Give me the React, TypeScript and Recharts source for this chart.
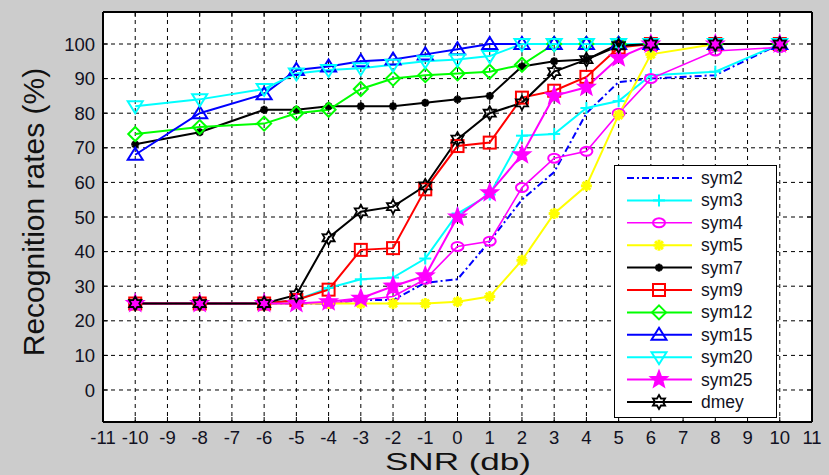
import React from 'react';
import { LineChart, Line, XAxis, YAxis, CartesianGrid, ReferenceLine } from 'recharts';

const snr = [-10, -8, -6, -5, -4, -3, -2, -1, 0, 1, 2, 3, 4, 5, 6, 8, 10];
const sym2 = [25, 25, 25, 25, 25, 26, 26, 31, 32, 43, 55, 63, 80, 89, 90, 91, 100];
const sym3 = [25, 25, 25, 26, 29.5, 32, 32.5, 38, 51, 56.5, 73.5, 74, 81.5, 83.5, 91, 92, 100];
const sym4 = [25, 25, 25, 25, 25, 26, 27, 32, 41.5, 43, 58.5, 67, 69, 80, 90, 98, 99];
const sym5 = [25, 25, 25, 25, 25, 25, 25, 25, 25.5, 27, 37.5, 51, 59, 79.5, 97, 100, 100];
const sym7 = [71, 74.5, 81, 81, 82, 82, 82, 83, 84, 85, 93.5, 95, 95.5, 100, 100, 100, 100];
const sym9 = [25, 25, 25, 26, 29, 40.5, 41, 58, 70.5, 71.5, 84.5, 86.5, 90.5, 99, 100, 100, 100];
const sym12 = [74, 76, 77, 80, 81, 87, 90, 91, 91.5, 92, 94, 100, 100, 100, 100, 100, 100];
const sym15 = [68, 80, 85.5, 92.5, 93.5, 95, 95.5, 97, 98.5, 100, 100, 100, 100, 100, 100, 100, 100];
const sym20 = [82, 84, 87, 91.5, 92.5, 93, 94, 95, 95.5, 96.5, 100, 100, 100, 100, 100, 100, 100];
const sym25 = [25, 25, 25, 25, 25.5, 26.5, 30, 33, 50, 57, 68, 85, 87.5, 96, 100, 100, 100];
const dmey = [25, 25, 25, 27.5, 44, 51.5, 53, 59, 72.5, 80, 83, 92, 95.5, 99.5, 100, 100, 100];

const xTicks = [-11, -10, -9, -8, -7, -6, -5, -4, -3, -2, -1, 0, 1, 2, 3, 4, 5, 6, 7, 8, 9, 10, 11];
const yTicks = [0, 10, 20, 30, 40, 50, 60, 70, 80, 90, 100];
const xDomain = [-11, 11];
const yDomain = [-9.25, 109.25];

type Kind = 'none' | 'plus' | 'circle' | 'asterisk' | 'smallstar' | 'square' | 'diamond' | 'triUp' | 'triDown' | 'pentagram' | 'hexagram';

const series: { key: string; values: number[]; color: string; kind: Kind; dash?: string; width: number }[] = [
  { key: 'sym2', values: sym2, color: '#0000ff', kind: 'none', dash: '7 3 2 3', width: 2 },
  { key: 'sym3', values: sym3, color: '#00ffff', kind: 'plus', width: 2 },
  { key: 'sym4', values: sym4, color: '#ff00ff', kind: 'circle', width: 1.6 },
  { key: 'sym5', values: sym5, color: '#ffff00', kind: 'asterisk', width: 2 },
  { key: 'sym7', values: sym7, color: '#000000', kind: 'smallstar', width: 2 },
  { key: 'sym9', values: sym9, color: '#ff0000', kind: 'square', width: 2 },
  { key: 'sym12', values: sym12, color: '#00ff00', kind: 'diamond', width: 2 },
  { key: 'sym15', values: sym15, color: '#0000ff', kind: 'triUp', width: 2 },
  { key: 'sym20', values: sym20, color: '#00ffff', kind: 'triDown', width: 2 },
  { key: 'sym25', values: sym25, color: '#ff00ff', kind: 'pentagram', width: 2 },
  { key: 'dmey', values: dmey, color: '#000000', kind: 'hexagram', width: 2 },
];

const data = snr.map((x, i) => {
  const row: Record<string, number> = { x };
  series.forEach((s) => {
    row[s.key] = s.values[i];
  });
  return row;
});

function starPoints(cx: number, cy: number, n: number, ro: number, ri: number) {
  const pts: string[] = [];
  for (let i = 0; i < n * 2; i++) {
    const r = i % 2 === 0 ? ro : ri;
    const a = -Math.PI / 2 + (i * Math.PI) / n;
    pts.push(`${cx + r * Math.cos(a)},${cy + r * Math.sin(a)}`);
  }
  return pts.join(' ');
}

function Marker({ kind, cx, cy, color }: { kind: Kind; cx: number; cy: number; color: string }) {
  if (cx == null || cy == null || isNaN(cx) || isNaN(cy)) return <g />;
  switch (kind) {
    case 'plus':
      return (
        <g stroke={color} strokeWidth={2}>
          <line x1={cx - 6} y1={cy} x2={cx + 6} y2={cy} />
          <line x1={cx} y1={cy - 6} x2={cx} y2={cy + 6} />
        </g>
      );
    case 'circle':
      return <ellipse cx={cx} cy={cy} rx={6} ry={4.5} fill="none" stroke={color} strokeWidth={2} />;
    case 'asterisk':
    case 'smallstar': {
      const r = kind === 'asterisk' ? 5.5 : 4;
      const w = kind === 'asterisk' ? 3 : 2.5;
      const ls = [0, 45, 90, 135].map((d) => {
        const a = (d * Math.PI) / 180;
        return (
          <line key={d} x1={cx - r * Math.cos(a)} y1={cy - r * Math.sin(a)} x2={cx + r * Math.cos(a)} y2={cy + r * Math.sin(a)} />
        );
      });
      return (
        <g stroke={color} strokeWidth={w}>
          {ls}
        </g>
      );
    }
    case 'square':
      return <rect x={cx - 6} y={cy - 6} width={12} height={12} fill="none" stroke={color} strokeWidth={2} />;
    case 'diamond':
      return (
        <polygon
          points={`${cx},${cy - 7} ${cx + 7},${cy} ${cx},${cy + 7} ${cx - 7},${cy}`}
          fill="none"
          stroke={color}
          strokeWidth={2}
        />
      );
    case 'triUp':
      return (
        <polygon
          points={`${cx},${cy - 7} ${cx + 7.5},${cy + 5} ${cx - 7.5},${cy + 5}`}
          fill="none"
          stroke={color}
          strokeWidth={2}
        />
      );
    case 'triDown':
      return (
        <polygon
          points={`${cx},${cy + 7} ${cx + 7.5},${cy - 5} ${cx - 7.5},${cy - 5}`}
          fill="none"
          stroke={color}
          strokeWidth={2}
        />
      );
    case 'pentagram':
      return <polygon points={starPoints(cx, cy, 5, 9, 3.8)} fill={color} stroke={color} strokeWidth={1.5} />;
    case 'hexagram':
      return <polygon points={starPoints(cx, cy, 6, 7, 4)} fill="none" stroke={color} strokeWidth={1.8} />;
    default:
      return <g />;
  }
}

const FONT = '"Liberation Sans", Arial, Helvetica, sans-serif';
const TICK_STYLE = { fill: '#111122', fontSize: 18.5, fontFamily: FONT };
const AXIS_LINE = { stroke: '#000', strokeWidth: 2 };
const blank = () => '';

function LegendBox() {
  const left = 614;
  const top = 165;
  const w = 163;
  const h = 253;
  return (
    <svg width={w} height={h} style={{ position: 'absolute', left, top, pointerEvents: 'none' }}>
      <rect x={0.5} y={0.5} width={w - 1} height={h - 1} fill="#ffffff" stroke="#000" strokeWidth={1} />
      {series.map((s, i) => {
        const y = 13 + i * 22.4;
        return (
          <g key={s.key}>
            <line x1={13} y1={y} x2={78} y2={y} stroke={s.color} strokeWidth={s.width} strokeDasharray={s.dash} />
            <Marker kind={s.kind} cx={45} cy={y} color={s.color} />
            <text x={87} y={y + 6} fontSize={17.5} fontFamily={FONT} fill="#111122">
              {s.key}
            </text>
          </g>
        );
      })}
    </svg>
  );
}

export default function App() {
  return (
    <div style={{ position: 'absolute', left: 0, top: 0, width: 829, height: 475, background: '#cccccc', overflow: 'hidden' }}>
      <LineChart width={829} height={475} data={data} margin={{ top: 2, right: 7, bottom: 13, left: 43 }}>
        <CartesianGrid stroke="#000" strokeDasharray="4 4" fill="#ffffff" />
        <XAxis
          dataKey="x"
          type="number"
          domain={xDomain}
          ticks={xTicks}
          interval={0}
          allowDataOverflow
          height={40}
          tickSize={-5}
          tickMargin={14}
          tick={TICK_STYLE}
          axisLine={AXIS_LINE}
          tickLine={{ stroke: '#000' }}
        />
        <XAxis
          xAxisId="top"
          orientation="top"
          dataKey="x"
          type="number"
          domain={xDomain}
          ticks={xTicks}
          interval={0}
          allowDataOverflow
          height={10}
          tickSize={-5}
          tickFormatter={blank}
          axisLine={AXIS_LINE}
          tickLine={{ stroke: '#000' }}
        />
        <YAxis
          type="number"
          domain={yDomain}
          ticks={yTicks}
          interval={0}
          allowDataOverflow
          width={60}
          tickSize={-5}
          tickMargin={13}
          tick={TICK_STYLE}
          axisLine={AXIS_LINE}
          tickLine={{ stroke: '#000' }}
        />
        <YAxis
          yAxisId="right"
          orientation="right"
          type="number"
          domain={yDomain}
          ticks={yTicks}
          interval={0}
          allowDataOverflow
          width={10}
          tickSize={-5}
          tickFormatter={blank}
          axisLine={AXIS_LINE}
          tickLine={{ stroke: '#000' }}
        />
        <ReferenceLine x={xDomain[1]} stroke="#000" strokeWidth={2} ifOverflow="visible" />
        <ReferenceLine y={yDomain[1]} stroke="#000" strokeWidth={2} ifOverflow="visible" />
        {series.map((s) => (
          <Line
            key={s.key}
            dataKey={s.key}
            type="linear"
            stroke={s.color}
            strokeWidth={s.width}
            strokeDasharray={s.dash}
            isAnimationActive={false}
            activeDot={false}
            dot={
              s.kind === 'none'
                ? false
                : (p: any) => <Marker key={`${s.key}-${p.index}`} kind={s.kind} cx={p.cx} cy={p.cy} color={s.color} />
            }
          />
        ))}
      </LineChart>
      <LegendBox />
      <svg width={829} height={475} style={{ position: 'absolute', left: 0, top: 0, pointerEvents: 'none' }}>
        <text
          x={458}
          y={470}
          textAnchor="middle"
          fontSize={24}
          fontFamily={FONT}
          fill="#111111"
          textLength={146}
          lengthAdjust="spacingAndGlyphs"
        >
          SNR (db)
        </text>
        <text
          x={44}
          y={212}
          textAnchor="middle"
          fontSize={30}
          fontFamily={FONT}
          fill="#111111"
          transform="rotate(-90 44 212)"
        >
          Recognition rates (%)
        </text>
      </svg>
    </div>
  );
}
